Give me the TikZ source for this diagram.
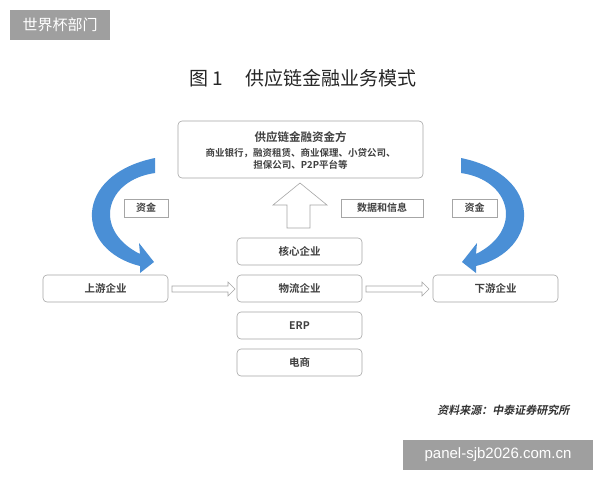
\documentclass[tikz,border=0pt]{standalone}
\usepackage{fontspec}
\setmainfont{Liberation Sans}
\newfontfamily\cjk{Noto Sans CJK SC}
\newfontfamily\cjkb{Noto Sans CJK SC Bold}
\newfontfamily\cjki[FakeSlant=0.2]{Noto Sans CJK SC Bold}
\definecolor{arrblue}{HTML}{4A8FD6}
\begin{document}
\begin{tikzpicture}[x=1pt,y=-1pt,
  bx/.style={draw=gray!70,rounded corners=4pt,line width=0.6pt,text=black!75,font=\cjkb\fontsize{10.5}{12}\selectfont,inner sep=0pt},
  lb/.style={draw=gray!70,line width=0.6pt,text=black!75,font=\cjkb\fontsize{10}{12}\selectfont,inner sep=0pt},
  hollow/.style={draw=gray!70,fill=white,line width=0.6pt},
  blue/.style={fill=arrblue,draw=none}]
\useasboundingbox (0,0) rectangle (600,480);
\fill[white] (0,0) rectangle (600,480);
% watermark labels
\node[fill=gray!75,text=white,minimum width=100pt,minimum height=30pt,inner sep=0pt,font=\cjk\fontsize{15}{16}\selectfont] (wm1) at (60,25) {世界杯部门};
\node[fill=gray!75,text=white,minimum width=190pt,minimum height=30pt,inner sep=0pt,font=\fontsize{15}{16}\selectfont] (wm2) at (498,455) {panel-sjb2026.com.cn};
% title
\node[font=\cjk\fontsize{19}{22}\selectfont,text=black!85] (title) at (303,78) {图 1\hspace{1.2em}供应链金融业务模式};
% top box
\node[bx,minimum width=245pt,minimum height=57pt] (fin) at (300.5,149.5) {};
\node[font=\cjkb\fontsize{11.5}{12}\selectfont,text=black!75] (fint) at (300.5,137) {供应链金融资金方};
\node[font=\cjkb\fontsize{9.5}{12}\selectfont,text=black!75,align=center] (finb) at (300.5,158.5) {商业银行，融资租赁、商业保理、小贷公司、\\担保公司、P2P平台等};
% labels
\node[lb,minimum width=44pt,minimum height=18pt] (z1) at (146,208) {资金};
\node[lb,minimum width=82pt,minimum height=18pt] (sj) at (382,208) {数据和信息};
\node[lb,minimum width=45pt,minimum height=18pt] (z2) at (474.5,208) {资金};
% up arrow
\draw[hollow] (287,228) -- (310,228) -- (310,205) -- (327,205) -- (300,183) -- (273,205) -- (287,205) -- cycle;
% center boxes
\node[bx,minimum width=125pt,minimum height=27pt] (hx) at (299.5,251.5) {核心企业};
\node[bx,minimum width=125pt,minimum height=27pt] (wl) at (299.5,288.5) {物流企业};
\node[bx,minimum width=125pt,minimum height=27pt] (erp) at (299.5,325.5) {ERP};
\node[bx,minimum width=125pt,minimum height=27pt] (ds) at (299.5,362.5) {电商};
\node[bx,minimum width=125pt,minimum height=27pt] (sy) at (105.5,288.5) {上游企业};
\node[bx,minimum width=125pt,minimum height=27pt] (xy) at (495.5,288.5) {下游企业};
% hollow horizontal arrows
\draw[hollow] (172,286) -- (228,286) -- (228,282) -- (235,289) -- (228,296) -- (228,292) -- (172,292) -- cycle;
\draw[hollow] (366,286) -- (422,286) -- (422,282) -- (429,289) -- (422,296) -- (422,292) -- (366,292) -- cycle;
% blue curved arrows
\path[blue] (155,158) -- (155,173) .. controls (105,180) and (92,230) .. (140,254) -- (139,243) -- (154,262) -- (140,273) -- (140,266) .. controls (75,250) and (72,175) .. (155,158) -- cycle;
\begin{scope}[xshift=616pt,xscale=-1]
\path[blue] (155,158) -- (155,173) .. controls (105,180) and (92,230) .. (140,254) -- (139,243) -- (154,262) -- (140,273) -- (140,266) .. controls (75,250) and (72,175) .. (155,158) -- cycle;
\end{scope}
% source
\node[font=\cjki\fontsize{11}{12}\selectfont,text=black!80,anchor=east] (src) at (573,410) {资料来源：中泰证券研究所};
\end{tikzpicture}
\end{document}
